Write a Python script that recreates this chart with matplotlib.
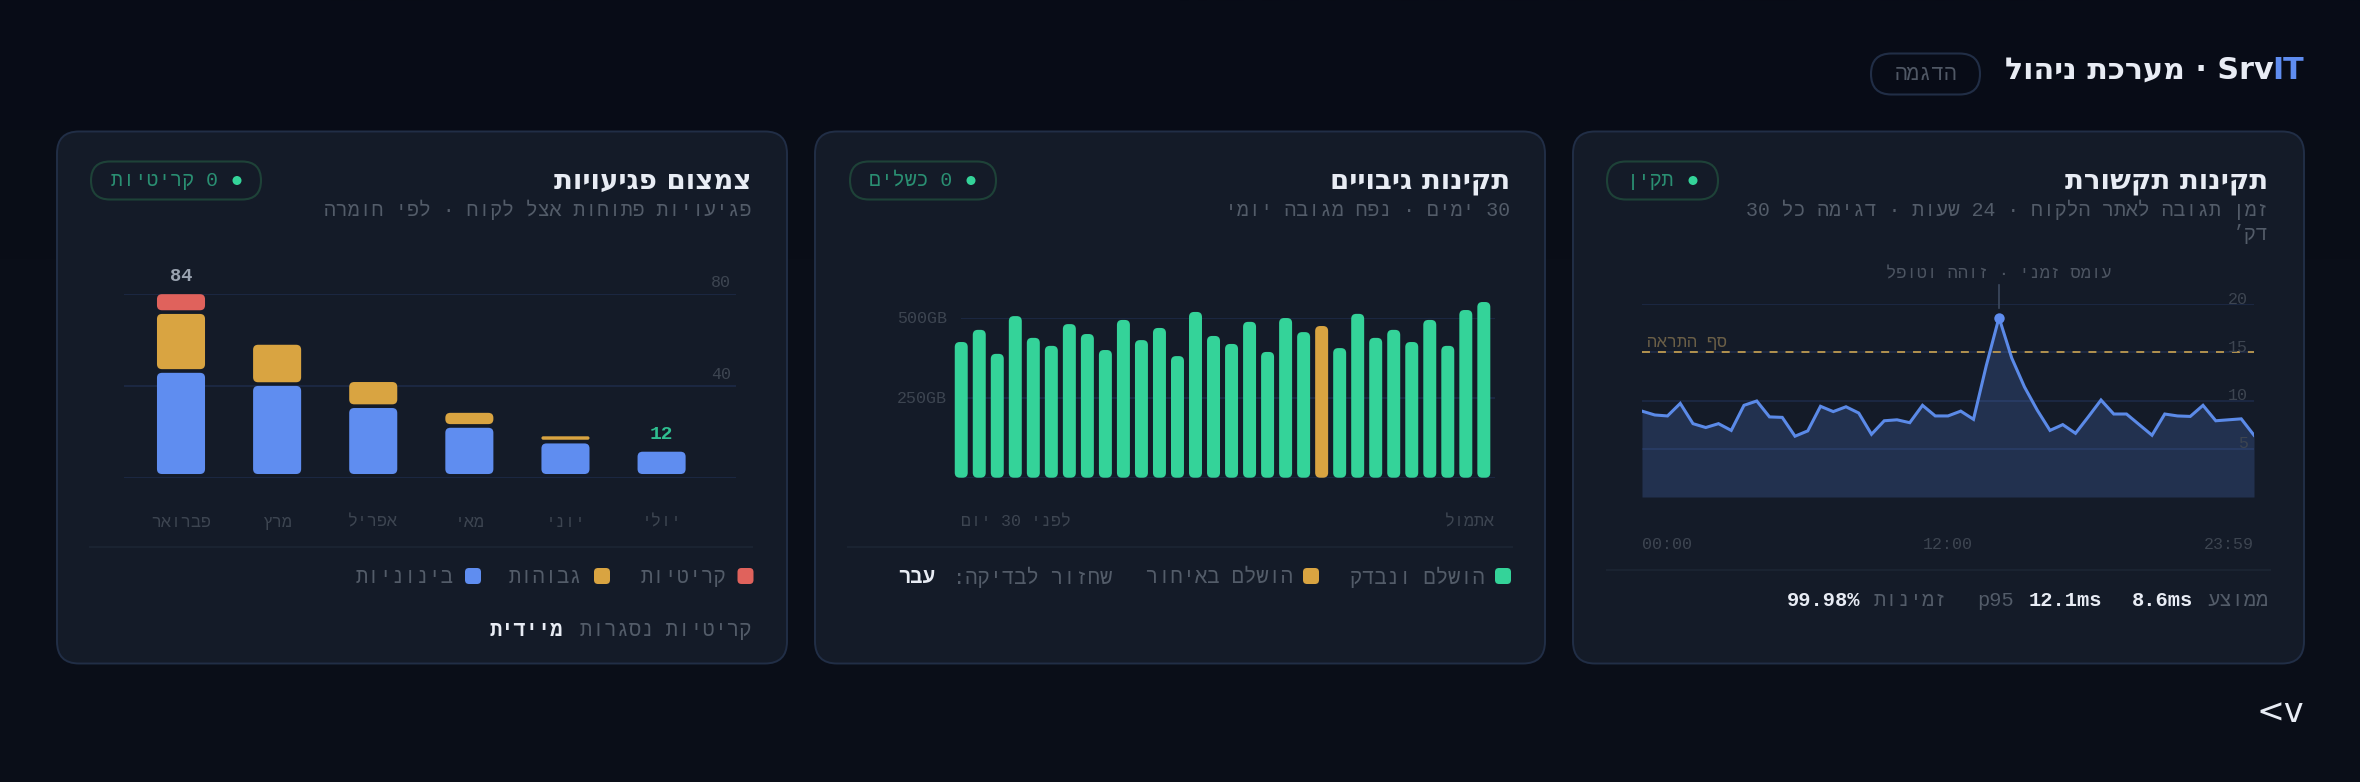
'''
    plot.py
    SrvIT dashboard: network line chart, backup bars, vulnerability stacks.
'''
import re
import numpy as np
import matplotlib
matplotlib.use('Agg')
import matplotlib.pyplot as plt
from matplotlib.colors import LinearSegmentedColormap
from matplotlib.patches import FancyBboxPatch, Circle

W, H = 2360, 782
PT = 0.72  # points per pixel at dpi 100

BG_TOP = '#080c17'
BG = '#0a0e18'
CARD = '#141b28'
BORDER = '#212e46'
SEP = '#1b2432'
GRID = '#1c2842'
WHITE = '#e8ecf4'
DIM = '#535c69'
FAINT = '#3d4551'
BLUE = '#5f8df0'
LINE = '#5b8ae8'
AMBER = '#d9a441'
DASH = '#b3924f'
RED = '#e0625c'
GREEN = '#34d399'
PILLTXT = '#2a8f72'
PILLEDGE = '#1e4238'
MONO = 'Liberation Mono'
SANS = 'DejaVu Sans'

# network card
net_values = [8.9, 8.5, 8.4, 9.7, 7.6, 7.2, 7.6, 6.9, 9.5, 9.95, 8.3, 8.25, 6.3, 6.85, 9.4, 8.85, 9.35,
               8.7, 6.5, 7.9, 8.0, 7.7, 9.5, 8.4, 8.4, 8.9, 8.05, 13.6, 18.6, 14.4, 11.4, 9.0, 6.9, 7.5,
               6.6, 8.3, 10.05, 8.6, 8.6, 7.5, 6.4, 8.6, 8.4, 8.35, 9.5, 7.9, 8.0, 8.1, 6.4]
net_yticks = [5, 10, 15, 20]
net_xticks = [0, 24, 48]
net_xlabels = ['00:00', '12:00', '23:59']
net_threshold = 15
net_peak = 28

# backup card
backup_gb = [424, 462, 387, 505, 437, 412, 480, 449, 399, 493, 430, 468, 380, 518, 443, 418, 487, 393,
             499, 455, 474, 405, 512, 437, 462, 424, 493, 412, 524, 549]
backup_late = 20
backup_yticks = [250, 500]

# vulnerabilities card
months = ['פברואר', 'מרץ', 'אפריל', 'מאי', 'יוני', 'יולי']
medium = [44.0, 38.3, 28.7, 20.1, 13.3, 9.7]
high = [24.0, 16.3, 9.7, 4.9, 1.5, 0]
critical = [7.0, 0, 0, 0, 0, 0]
vuln_yticks = [40, 80]


def vis(s):
    # matplotlib has no bidi, so put hebrew in visual order and keep number/latin runs as they are
    r = s[::-1]
    return re.sub(r'[0-9A-Za-z.%]+', lambda m: m.group(0)[::-1], r)


fig = plt.figure(figsize=(W / 100, H / 100), dpi=100, facecolor=BG)
page = fig.add_axes([0, 0, 1, 1])
page.imshow(np.linspace(0, 1, 256).reshape(-1, 1), cmap=LinearSegmentedColormap.from_list('bg', [BG_TOP, BG]),
            extent=(0, W, 260, 0), aspect='auto', zorder=-2)
page.set_xlim(0, W)
page.set_ylim(H, 0)
page.axis('off')
page.add_patch(plt.Rectangle((0, 260), W, H - 260, fc=BG, lw=0, zorder=-2))


def txt(x, y, s, size, color, ha='right', weight='normal', family=MONO, hebrew=True):
    return page.text(x, y, vis(s) if hebrew else s, fontsize=size, color=color, ha=ha, va='center',
                     fontweight=weight, family=family)


def pill(x0, x1, y0, y1, edge, lw=1.5):
    r = (y1 - y0) / 2
    page.add_patch(FancyBboxPatch((x0 + r, y0 + r), x1 - x0 - 2 * r, 0, boxstyle='round,pad=%f,rounding_size=%f' % (r, r),
                                  fc='none', ec=edge, lw=lw * PT * 1.4))


def swatch(x0, y_mid, color):
    page.add_patch(FancyBboxPatch((x0, y_mid - 8), 16, 16, boxstyle='round,pad=0,rounding_size=4', fc=color, lw=0))


def card(x0, x1):
    page.add_patch(FancyBboxPatch((x0, 131.5), x1 - x0, 532, boxstyle='round,pad=0,rounding_size=22',
                                  fc=CARD, ec=BORDER, lw=1.4))


def sep(x0, x1, y):
    page.plot([x0, x1], [y, y], color=SEP, lw=1.4)


def chart_axes(x0, x1, y_top, y_bottom):
    ax = fig.add_axes([x0 / W, 1 - y_bottom / H, (x1 - x0) / W, (y_bottom - y_top) / H])
    ax.patch.set_alpha(0)
    for s in ax.spines.values():
        s.set_visible(False)
    ax.tick_params(length=0)
    return ax


def ylabel(ax, side, value, s, dx, dy):
    ax.annotate(s, xy=(side, value), xycoords=ax.get_yaxis_transform(), xytext=(dx * PT, dy * PT),
                textcoords='offset points', ha='right', va='center', fontsize=12, color=FAINT, family=MONO)


def xlabels(ax, ticks, labels, has, pad):
    ax.set_xticks(ticks)
    ax.set_xticklabels(labels, fontsize=12, color=FAINT, family=MONO)
    for t, h in zip(ax.get_xticklabels(), has):
        t.set_ha(h)
    ax.tick_params(axis='x', pad=pad * PT)


def round_bar(ax, x, bottom, width, height, color, r_px):
    # corner radius stays round in pixels although x and y data scales differ
    box = ax.get_window_extent()
    xa, xb = ax.get_xlim()
    ya, yb = ax.get_ylim()
    x_px = box.width / (xb - xa)
    y_px = box.height / (yb - ya)
    r = min(r_px, height * y_px / 2)
    ax.add_patch(FancyBboxPatch((x - width / 2, bottom), width, height,
                                boxstyle='round,pad=0,rounding_size=%f' % (r / x_px),
                                mutation_aspect=x_px / y_px, fc=color, lw=0, clip_on=False))


# header
txt(2304, 70.5, 'IT', 21.7, BLUE, weight='bold', family=SANS, hebrew=False)
txt(2274, 70.5, 'Srv · מערכת ניהול', 21.7, WHITE, weight='bold', family=SANS)
pill(1871, 1980, 53.5, 94.5, BORDER)
txt(1926, 74, 'הדגמה', 15, '#505865', ha='center')
txt(2304, 713, '<v', 24, WHITE, family=SANS, hebrew=False)

for a, b in [(57, 787), (815, 1545), (1573, 2304)]:
    card(a, b)

# card titles, pills
txt(2268, 181, 'תקינות תקשורת', 19.9, WHITE, weight='bold', family=SANS)
txt(1510, 181, 'תקינות גיבויים', 19.9, WHITE, weight='bold', family=SANS)
txt(751, 181, 'צמצום פגיעויות', 19.9, WHITE, weight='bold', family=SANS)

for x0, x1, dot, s in [(1607, 1718, 1693, 'תקין'), (850, 996, 971, '0 כשלים'), (91, 261, 237, '0 קריטיות')]:
    pill(x0, x1, 161.5, 199.5, PILLEDGE)
    page.add_patch(Circle((dot, 180.5), 4.5, fc=GREEN, lw=0))
    txt(dot - 19, 180.5, s, 14.3, PILLTXT)

txt(2268, 210, 'זמן תגובה לאתר הלקוח · 24 שעות · דגימה כל 30', 14.3, DIM)
txt(2268, 234, 'דק׳', 14.3, DIM)
txt(1510, 210, '30 ימים · נפח מגובה יומי', 14.3, DIM)
txt(751, 210, 'פגיעויות פתוחות אצל לקוח · לפי חומרה', 14.3, DIM)

sep(1607, 2270, 570)
sep(848, 1512, 547)
sep(90, 752, 547)

# network chart
ax = chart_axes(1642, 2254, 304, 497)
ax.set_xlim(0, 48)
ax.set_ylim(0, 20)
ax.set_yticks(net_yticks)
ax.set_yticklabels([])
ax.grid(True, axis='y', color=GRID, lw=1.4)
ax.set_axisbelow(True)
xs = list(range(len(net_values)))
ax.fill_between(xs, net_values, 0, color=BLUE, alpha=0.2, lw=0)
ax.axhline(net_threshold, color=DASH, lw=1.4, ls=(0, (4.1, 4.1)))
ax.plot(xs, net_values, color=LINE, lw=2.2, solid_joinstyle='miter')
ax.plot([net_peak], [net_values[net_peak]], 'o', color=BLUE, ms=7.5, mew=0, clip_on=False)
ax.plot([net_peak, net_peak], [19.6, 22], color='#3d4a60', lw=1.2, clip_on=False)
ax.annotate(vis('עומס זמני · זוהה וטופל'), xy=(net_peak, 22), xytext=(0, 10.5 * PT), textcoords='offset points',
            ha='center', va='center', fontsize=12.3, color='#4d5562', family=MONO, annotation_clip=False)
ax.annotate(vis('סף התראה'), xy=(0, net_threshold), xytext=(5 * PT, 10 * PT), textcoords='offset points',
            ha='left', va='center', fontsize=12, color='#6b5f47', family=MONO)
for v in net_yticks:
    ylabel(ax, 1, v, str(v), -6, 5)
xlabels(ax, net_xticks, net_xlabels, ['left', 'center', 'right'], 40)

txt(2269, 600.5, 'ממוצע', 14.7, DIM)
txt(2193, 600.5, '8.6ms', 14.7, WHITE, weight='bold', hebrew=False)
txt(2102, 600.5, '12.1ms', 14.7, WHITE, weight='bold', hebrew=False)
txt(2014, 600.5, 'p95', 14.7, DIM, hebrew=False)
txt(1947, 600.5, 'זמינות', 14.7, DIM)
txt(1860, 600.5, '99.98%', 14.7, WHITE, weight='bold', hebrew=False)

# backup chart
ax = chart_axes(960.7, 1495, 317.7, 477.7)
ax.set_xlim(-0.03, 29.62)
ax.set_ylim(0, 500)
ax.set_yticks([0] + backup_yticks)
ax.set_yticklabels([])
ax.grid(True, axis='y', color=GRID, lw=1.4)
ax.set_axisbelow(True)
for i, v in enumerate(backup_gb):
    round_bar(ax, i, 0, 0.72, v, AMBER if i == backup_late else GREEN, 5)
for v in backup_yticks:
    ylabel(ax, 0, v, '%dGB' % v, -14, -0.5)
xlabels(ax, [0, 29.62], [vis('לפני 30 יום'), vis('אתמול')], ['left', 'right'], 37)

swatch(1495, 576, GREEN)
txt(1485, 577.5, 'הושלם ונבדק', 14.8, DIM)
swatch(1303, 576, AMBER)
txt(1293, 577.5, 'הושלם באיחור', 14.8, DIM)
txt(1112, 577.5, 'שחזור לבדיקה:', 14.8, DIM)
txt(935, 577.5, 'עבר', 14.8, WHITE, weight='bold')

# vulnerabilities chart
ax = chart_axes(124, 735.6, 293.7, 477.7)
ax.set_xlim(-0.593, 5.77)
ax.set_ylim(0, 80)
ax.set_yticks([0] + vuln_yticks)
ax.set_yticklabels([])
ax.grid(True, axis='y', color=GRID, lw=1.4)
ax.set_axisbelow(True)
gap = 1.6
for i in range(len(months)):
    bottom = gap
    for seg, color in [(medium[i], BLUE), (high[i], AMBER), (critical[i], RED)]:
        if seg > 0:
            round_bar(ax, i, bottom, 0.5, seg, color, 5)
            bottom += seg + gap
    if i == 0:
        ax.annotate('84', xy=(i, bottom - gap), xytext=(0, 18 * PT), textcoords='offset points', ha='center',
                    va='center', fontsize=13.5, fontweight='bold', color='#9aa3b0', family=MONO, annotation_clip=False)
    if i == len(months) - 1:
        ax.annotate('12', xy=(i, bottom - gap), xytext=(0, 17.7 * PT), textcoords='offset points', ha='center',
                    va='center', fontsize=14, fontweight='bold', color='#2fbf90', family=MONO)
for v in vuln_yticks:
    ylabel(ax, 1, v, str(v), -4.5, 11.5)
xlabels(ax, list(range(len(months))), [vis(m) for m in months], ['center'] * 6, 37)

swatch(737.5, 576, RED)
txt(726, 577.5, 'קריטיות', 14.8, DIM)
swatch(594, 576, AMBER)
txt(582, 577.5, 'גבוהות', 14.8, DIM)
swatch(465, 576, BLUE)
txt(454, 577.5, 'בינוניות', 14.8, DIM)
txt(751, 631, 'קריטיות נסגרות', 14.8, DIM)
txt(563, 631, 'מיידית', 14.8, WHITE, weight='bold')

fig.savefig('out.png', dpi=100, facecolor=BG)
